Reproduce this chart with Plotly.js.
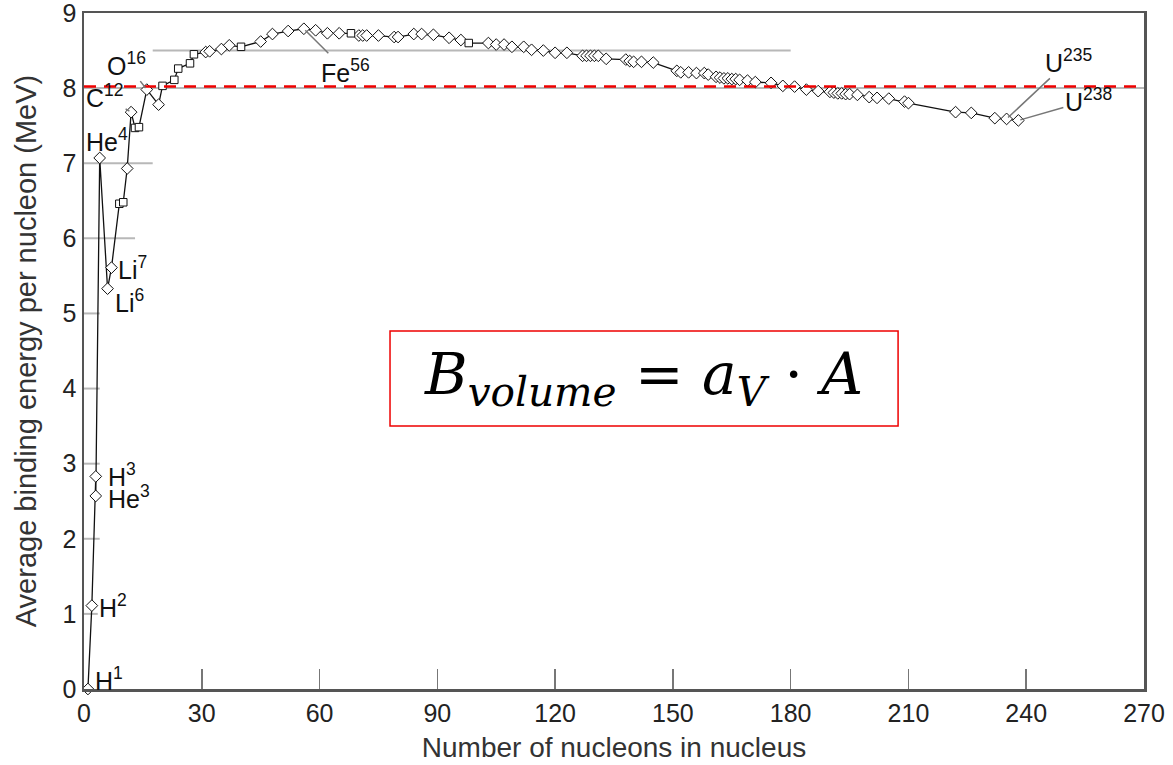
<!DOCTYPE html>
<html>
<head>
<meta charset="utf-8">
<script src="https://cdn.plot.ly/plotly-3.0.1.min.js"></script>
<style>
html,body{margin:0;padding:0;background:#fff;}
#chart{width:1173px;height:765px;}
</style>
</head>
<body>
<div id="chart"></div>
<script>
// Isotopes drawn with diamond markers (mass number A, binding energy per nucleon in MeV)
const diamondA = [1, 2, 3, 3, 4, 6, 7, 11, 12, 16, 19, 31, 32, 35, 37, 45, 48, 52, 56, 59, 62, 65,
  70, 71, 72, 75, 79, 80, 84, 86, 89, 93, 96, 103, 105, 107, 109, 112, 114, 117, 120, 123,
  127, 128, 129, 130, 131, 133, 138, 139, 140, 142, 145, 151, 152, 154, 156, 158, 159, 161, 162,
  163, 164, 165, 166, 167, 169, 171, 175, 178, 181, 184, 187, 190, 191, 192, 193, 194, 195, 197,
  200, 202, 205, 209, 210, 222, 226, 232, 235, 238];
const diamondE = [0, 1.11, 2.83, 2.57, 7.07, 5.33, 5.61, 6.93, 7.68, 7.98, 7.78, 8.48, 8.49, 8.52, 8.57, 8.62, 8.72, 8.76, 8.79, 8.77, 8.73, 8.73,
  8.70, 8.70, 8.70, 8.70, 8.68, 8.68, 8.72, 8.72, 8.71, 8.67, 8.64, 8.60, 8.58, 8.58, 8.55, 8.55, 8.51, 8.50, 8.47, 8.47,
  8.43, 8.43, 8.43, 8.43, 8.43, 8.39, 8.38, 8.36, 8.35, 8.35, 8.34, 8.23, 8.21, 8.21, 8.20, 8.20, 8.18, 8.15, 8.14,
  8.13, 8.13, 8.12, 8.12, 8.11, 8.10, 8.08, 8.07, 8.03, 8.02, 7.98, 7.96, 7.95, 7.94, 7.93, 7.93, 7.92, 7.92, 7.91,
  7.88, 7.87, 7.86, 7.82, 7.80, 7.68, 7.67, 7.60, 7.59, 7.57];
// Isotopes drawn with square markers
const squareA = [9, 10, 13, 14, 20, 23, 24, 27, 28, 40, 68, 98];
const squareE = [6.46, 6.48, 7.47, 7.48, 8.03, 8.11, 8.26, 8.33, 8.45, 8.55, 8.73, 8.60];

// Labels
const labelText = ["H<sup>1</sup>", "H<sup>2</sup>", "H<sup>3</sup>", "He<sup>3</sup>", "He<sup>4</sup>", "Li<sup>6</sup>", "Li<sup>7</sup>"];
const labelA = [1, 2, 3, 3, 4, 6, 7];
const labelE = [0, 1.11, 2.83, 2.57, 7.07, 5.33, 5.61];
const calloutText = ["C<sup>12</sup>", "O<sup>16</sup>", "Fe<sup>56</sup>", "U<sup>235</sup>", "U<sup>238</sup>"];
const calloutA = [12, 16, 56, 235, 238];
const calloutE = [7.68, 7.98, 8.79, 7.59, 7.57];

// Reference lines (grey) and the dashed red level
const refY = [1, 2, 3, 4, 5, 6, 7, 8, 8.5];
const refX0 = [0, 0, 0, 0, 0, 0, 0, 0, 17.5];
const refX1 = [3.5, 4, 4, 4, 4, 13, 17.5, 270, 180];
const dashedLevel = 8.02;

const xTicks = [0, 30, 60, 90, 120, 150, 180, 210, 240, 270];
const yTicks = [0, 1, 2, 3, 4, 5, 6, 7, 8, 9];

// merged, ordered line
const all = diamondA.map((a, i) => ({a, e: diamondE[i], k: i}))
  .concat(squareA.map((a, i) => ({a, e: squareE[i], k: 1000 + i})));
all.sort((p, q) => p.a - q.a || p.k - q.k);

const traces = [
  {x: all.map(p => p.a), y: all.map(p => p.e), mode: 'lines', type: 'scatter',
   line: {color: '#111', width: 1.3}, hoverinfo: 'skip', cliponaxis: false},
  {x: diamondA, y: diamondE, mode: 'markers', type: 'scatter', cliponaxis: false,
   marker: {symbol: 'diamond', size: 9, color: '#fff', line: {color: '#111', width: 1}}},
  {x: squareA, y: squareE, mode: 'markers', type: 'scatter', cliponaxis: false,
   marker: {symbol: 'square', size: 7.5, color: '#fff', line: {color: '#111', width: 1}}}
];

const shapes = refY.map((y, i) => ({type: 'line', xref: 'x', yref: 'y', x0: refX0[i], x1: refX1[i], y0: y, y1: y,
  line: {color: '#b8b8b8', width: 2}, layer: 'below'}));
shapes.push({type: 'line', xref: 'paper', yref: 'y', x0: 0, x1: 1, y0: dashedLevel, y1: dashedLevel,
  line: {color: '#ee0000', width: 2.5, dash: '12px,8px'}, layer: 'above'});
shapes.push({type: 'rect', xref: 'paper', yref: 'paper', x0: 0.2887, x1: 0.768, y0: 0.389, y1: 0.5296,
  line: {color: '#ee0000', width: 1.5}, fillcolor: 'rgba(0,0,0,0)'});

const lblFont = {family: 'Liberation Sans, Arial, sans-serif', size: 25, color: '#111'};
const annotations = [];
const lblShift = [[5, 10], [5, 0], [10, 1], [10, -1], [-16, 18], [5, -12], [5, 0]];
labelText.forEach((t, i) => annotations.push({x: labelA[i], y: labelE[i], xref: 'x', yref: 'y', text: t,
  showarrow: false, xanchor: 'left', yanchor: 'middle',
  xshift: lblShift[i][0], yshift: lblShift[i][1], font: lblFont}));
const callOff = [[-26, -16], [-20, -26], [42, 42], [62, -58], [70, -20]];
calloutText.forEach((t, i) => annotations.push({x: calloutA[i], y: calloutE[i], xref: 'x', yref: 'y', text: t,
  showarrow: true, arrowhead: 0, arrowwidth: 1.5, arrowcolor: '#777', standoff: 2,
  ax: callOff[i][0], ay: callOff[i][1], font: lblFont}));
annotations.push({xref: 'paper', yref: 'paper', x: 0.528, y: 0.46, xanchor: 'center', yanchor: 'middle',
  showarrow: false,
  text: '<i>B</i><sub><i>volume</i></sub> = <i>a</i><sub><i>V</i></sub> · <i>A</i>',
  font: {family: 'DejaVu Serif, serif', size: 58, color: '#000'}});

const layout = {
  width: 1173, height: 765,
  margin: {l: 84, r: 29, t: 13, b: 76},
  paper_bgcolor: '#fff', plot_bgcolor: '#fff',
  showlegend: false,
  font: {family: 'Liberation Sans, Arial, sans-serif', color: '#222'},
  xaxis: {range: [0, 270], tickvals: xTicks, ticktext: xTicks.map(String),
    ticks: 'inside', ticklen: 20, tickwidth: 1.5, tickcolor: '#777',
    showgrid: false, zeroline: false, showline: true, mirror: true, linecolor: '#555', linewidth: 2.5,
    tickfont: {size: 25, color: '#222'}, ticklabeloverflow: 'allow',
    title: {text: 'Number of nucleons in nucleus', font: {size: 28, color: '#333'}, standoff: 12}},
  yaxis: {range: [0, 9], tickvals: yTicks, ticktext: yTicks.map(String), ticks: '',
    showgrid: false, zeroline: false, showline: true, mirror: true, linecolor: '#555', linewidth: 2.5,
    tickfont: {size: 25, color: '#222'}, ticklabeloverflow: 'allow',
    title: {text: 'Average binding energy per nucleon (MeV)', font: {size: 29, color: '#333'}, standoff: 18}},
  shapes, annotations
};

Plotly.newPlot('chart', traces, layout, {displayModeBar: false, staticPlot: true});
</script>
</body>
</html>
